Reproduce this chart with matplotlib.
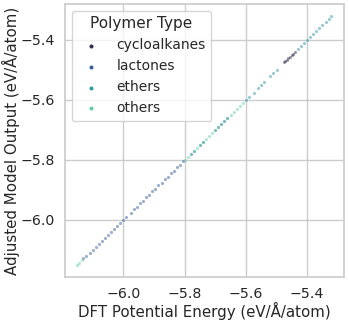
import numpy as np
import matplotlib
matplotlib.use("Agg")
import matplotlib.pyplot as plt
import seaborn as sns

# DFT energy vs adjusted model output, per polymer type
cyclo_dft = [-5.476, -5.471, -5.466, -5.461, -5.456, -5.451, -5.446, -5.441]
cyclo_pred = [-5.474, -5.470, -5.467, -5.460, -5.457, -5.450, -5.447, -5.440]

lactone_dft = [-6.130, -6.120, -6.110, -6.100, -6.090, -6.080, -6.070, -6.060, -6.050,
               -6.040, -6.030, -6.020, -6.010, -6.000, -5.990, -5.975, -5.965, -5.955,
               -5.945, -5.935, -5.925, -5.915, -5.905, -5.895, -5.885, -5.875, -5.865,
               -5.855, -5.845, -5.835, -5.825, -5.815, -5.805, -5.780, -5.770, -5.750,
               -5.740, -5.700, -5.690, -5.680, -5.670, -5.660]
lactone_pred = [-6.128, -6.121, -6.109, -6.101, -6.089, -6.081, -6.069, -6.061, -6.049,
                -6.041, -6.029, -6.021, -6.009, -6.001, -5.989, -5.976, -5.964, -5.956,
                -5.944, -5.936, -5.924, -5.916, -5.904, -5.896, -5.884, -5.876, -5.864,
                -5.856, -5.844, -5.836, -5.824, -5.816, -5.804, -5.781, -5.769, -5.751,
                -5.739, -5.701, -5.689, -5.681, -5.669, -5.661]

ether_dft = [-5.600, -5.590, -5.575, -5.560, -5.550, -5.540, -5.520, -5.510, -5.500,
             -5.430, -5.420, -5.410, -5.400, -5.390, -5.380, -5.370, -5.360, -5.350,
             -5.340, -5.330, -5.322]
ether_pred = [-5.601, -5.589, -5.576, -5.559, -5.551, -5.539, -5.521, -5.509, -5.501,
              -5.429, -5.421, -5.409, -5.401, -5.389, -5.381, -5.369, -5.361, -5.349,
              -5.341, -5.329, -5.321]

other_dft = [-6.150, -6.143, -6.136, -5.800, -5.790, -5.780, -5.770, -5.760, -5.750,
             -5.740, -5.730, -5.720, -5.710, -5.700, -5.690, -5.680, -5.670, -5.660,
             -5.650, -5.640, -5.630, -5.620, -5.610]
other_pred = [-6.149, -6.144, -6.135, -5.801, -5.789, -5.781, -5.769, -5.761, -5.749,
              -5.741, -5.729, -5.721, -5.709, -5.701, -5.689, -5.681, -5.669, -5.661,
              -5.649, -5.641, -5.629, -5.621, -5.609]

labels = ["cycloalkanes", "lactones", "ethers", "others"]

sns.set_theme(style="whitegrid")
colors = sns.color_palette("mako", 4)

fig, ax = plt.subplots(figsize=(3.49, 3.21), dpi=100)

series = [(cyclo_dft, cyclo_pred), (lactone_dft, lactone_pred),
          (ether_dft, ether_pred), (other_dft, other_pred)]
for (xs, ys), lab, c in zip(series, labels, colors):
    ax.scatter(xs, ys, s=5, color=c, alpha=0.5, linewidth=0, label=lab)

ax.set_xticks([-6.0, -5.8, -5.6, -5.4])
ax.set_yticks([-6.0, -5.8, -5.6, -5.4])
ax.tick_params(labelsize=10.2, pad=1)
ax.set_xlabel("DFT Potential Energy (eV/Å/atom)", fontsize=10.8, labelpad=1)
ax.set_ylabel("Adjusted Model Output (eV/Å/atom)", fontsize=10.8, labelpad=0)

leg = ax.legend(title="Polymer Type", loc="upper left", fontsize=10, title_fontsize=11,
                markerscale=1.3, handletextpad=0.85, labelspacing=0.5, borderaxespad=0.5)
for h in leg.legend_handles:
    h.set_alpha(1)

fig.subplots_adjust(left=0.185, right=0.985, top=0.988, bottom=0.137)
fig.savefig("out.png", dpi=100)
